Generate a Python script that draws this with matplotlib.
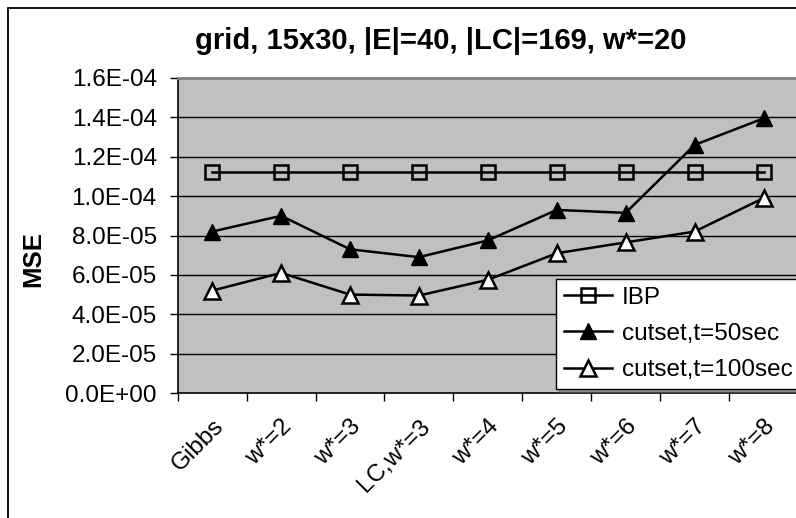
import matplotlib
matplotlib.use("Agg")
import matplotlib.pyplot as plt
from matplotlib.ticker import FixedLocator, FuncFormatter, NullFormatter
from matplotlib.patches import Rectangle

plt.rcParams['font.family'] = ['Liberation Sans', 'DejaVu Sans']

categories = ["Gibbs", "w*=2", "w*=3", "LC,w*=3", "w*=4", "w*=5", "w*=6", "w*=7", "w*=8"]
ibp = [1.125e-4] * 9
cutset_50 = [8.2e-5, 9.0e-5, 7.3e-5, 6.9e-5, 7.75e-5, 9.3e-5, 9.15e-5, 1.26e-4, 1.395e-4]
cutset_100 = [5.2e-5, 6.1e-5, 5.0e-5, 4.95e-5, 5.75e-5, 7.1e-5, 7.65e-5, 8.2e-5, 9.9e-5]
y_ticks = [0, 2e-5, 4e-5, 6e-5, 8e-5, 1.0e-4, 1.2e-4, 1.4e-4, 1.6e-4]

W, H = 796, 518
fig = plt.figure(figsize=(W / 100, H / 100), dpi=100)
fig.patch.set_facecolor("white")

# chart-area border
fig.patches.append(Rectangle((8 / W, -0.1), 1.2, (H - 8) / H + 0.1,
                             transform=fig.transFigure, fill=False,
                             edgecolor="black", linewidth=1.3))

left, right, top, bottom = 177.7, 798, 78, 393
ax = fig.add_axes([left / W, (H - bottom) / H, (right - left) / W, (bottom - top) / H])
ax.set_facecolor("#C0C0C0")

x = list(range(len(categories)))
ax.set_xlim(-0.5, len(categories) - 0.5)
ax.set_ylim(0, 1.6e-4)

for yv in y_ticks[1:]:
    ax.axhline(yv, color="black", linewidth=1.0, zorder=1)

ax.plot(x, ibp, color="black", linewidth=1.8, marker="s", markersize=10,
        markerfacecolor="none", markeredgecolor="black", markeredgewidth=1.8,
        label="IBP", zorder=3)
ax.plot(x, cutset_50, color="black", linewidth=1.8, marker="^", markersize=11.5,
        markerfacecolor="black", markeredgecolor="black",
        label="cutset,t=50sec", zorder=3)
ax.plot(x, cutset_100, color="black", linewidth=1.8, marker="^", markersize=11.5,
        markerfacecolor="white", markeredgecolor="black", markeredgewidth=1.8,
        label="cutset,t=100sec", zorder=3)

ax.yaxis.set_major_locator(FixedLocator(y_ticks))
ax.yaxis.set_major_formatter(FuncFormatter(lambda v, p: f"{v:.1E}"))
ax.tick_params(axis="y", direction="out", length=6, width=1, pad=9, labelsize=17.5)

ax.set_xticks(x)
ax.set_xticklabels(categories, rotation=45, ha="right", rotation_mode="anchor", fontsize=17.5)
ax.tick_params(axis="x", which="major", length=0, pad=16)
ax.xaxis.set_minor_locator(FixedLocator([i - 0.5 for i in range(len(categories) + 1)]))
ax.xaxis.set_minor_formatter(NullFormatter())
ax.tick_params(axis="x", which="minor", direction="out", length=6, width=1)

for side in ("top", "right"):
    ax.spines[side].set_color("#808080")
    ax.spines[side].set_linewidth(2)
for side in ("left", "bottom"):
    ax.spines[side].set_color("black")
    ax.spines[side].set_linewidth(1.2)

ax.set_ylabel("MSE", fontsize=18.5, fontweight="bold")
ax.yaxis.set_label_coords(45 / W, 0.5, transform=fig.transFigure)

fig.text(440.5 / W, 1 - 41 / H, "grid, 15x30, |E|=40, |LC|=169, w*=20",
         ha="center", va="center", fontsize=21, fontweight="bold")

leg = ax.legend(loc="upper left", bbox_to_anchor=(556 / W, 1 - 279 / H),
                bbox_transform=fig.transFigure, fontsize=17.5, frameon=True,
                fancybox=False, shadow={"color": "#606060", "ox": 2, "oy": -2},
                borderpad=0.32, labelspacing=0.58,
                handlelength=2.0, handletextpad=0.4, borderaxespad=0)
leg.get_frame().set_edgecolor("black")
leg.get_frame().set_linewidth(1.0)
leg.get_frame().set_facecolor("white")

fig.savefig("out.png", dpi=100)
